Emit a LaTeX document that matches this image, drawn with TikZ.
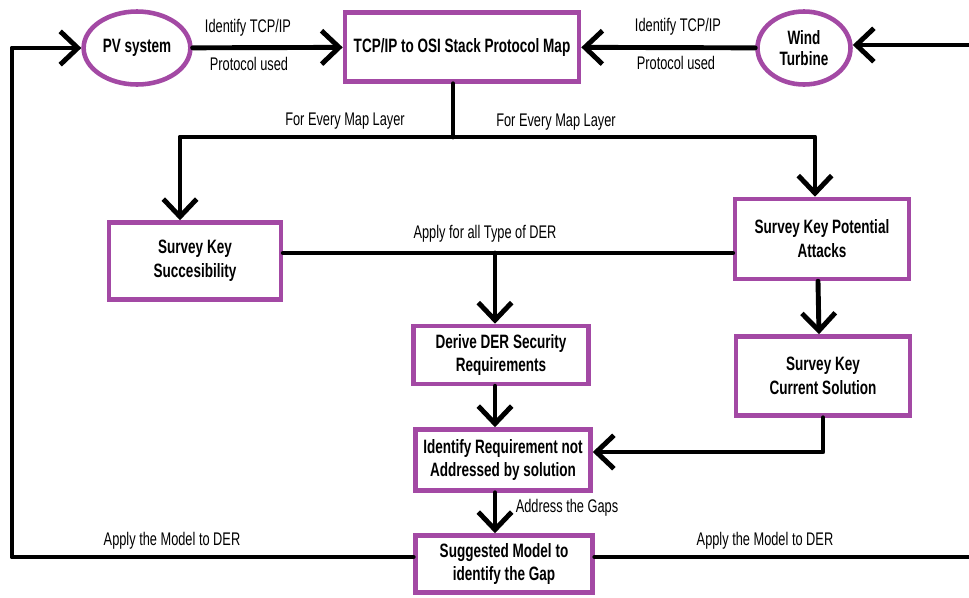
\documentclass[tikz,border=0pt]{standalone}
\usepackage{fontspec}
\setmainfont{Liberation Sans}[FakeStretch=0.7]
\usepackage{tikz}
\usetikzlibrary{arrows.meta,positioning,shapes.geometric,calc}
\usepackage{xcolor}
\definecolor{derpurple}{RGB}{163,73,164}

\begin{document}
\begin{tikzpicture}[x=0.2mm,y=-0.2mm,
    box/.style={draw=derpurple,line width=2.6pt,fill=white,align=center,
        font=\fontsize{11}{13.6}\selectfont\bfseries,inner sep=2pt},
    oval/.style={box,ellipse,font=\fontsize{11}{11.6}\selectfont\bfseries},
    lab/.style={font=\fontsize{10.4}{12}\selectfont},
    link/.style={line width=2.8pt,line cap=round,line join=round},
    arr/.style={link,-{Straight Barb[length=10pt,width=19pt]}}]
    \useasboundingbox (0,0) rectangle (969,598);
    % sources and protocol map
    \node[oval,minimum width=17.2mm,minimum height=14.6mm] (pv) at (137,48) {PV system};
    \node[box,minimum width=46.8mm,minimum height=13.8mm] (map) at (462,47) {TCP/IP to OSI Stack Protocol Map};
    \node[oval,minimum width=18.6mm,minimum height=14.6mm] (wind) at (804,48) {Wind\\Turbine};
    % survey boxes
    \node[box,minimum width=34.4mm,minimum height=15.4mm] (susc) at (195,261) {Survey Key\\Succesibility};
    \node[box,minimum width=34.8mm,minimum height=16mm] (att) at (822,239) {Survey Key Potential\\Attacks};
    \node[box,minimum width=34.8mm,minimum height=15.8mm] (cur) at (823,376) {Survey Key\\Current Solution};
    % requirement chain
    \node[box,minimum width=35mm,minimum height=11.6mm] (der) at (501,355) {Derive DER Security\\Requirements};
    \node[box,minimum width=35mm,minimum height=12.2mm] (ident) at (503,460) {Identify Requirement not\\Addressed by solution};
    \node[box,minimum width=35.4mm,minimum height=11.4mm] (sugg) at (504,564) {Suggested Model to\\identify the Gap};
    % free ends and branch points
    \coordinate (rin) at (969,45);
    \coordinate (rout) at (969,557);
    \coordinate (lft) at (12,300);
    \coordinate (split) at (453,137);
    \coordinate (hub) at (495,253);

    \draw[arr] (pv) -- (map);
    \draw[arr] (wind) -- (map);
    \draw[arr] (rin) -- (wind.east |- rin);
    \node[lab] (idl) at (248,28) {Identify TCP/IP};
    \node[lab] (pul) at (249,64) {Protocol used};
    \node[lab] (idr) at (678,27) {Identify TCP/IP};
    \node[lab] (pur) at (676,63) {Protocol used};

    % every map layer
    \draw[link] (map.south -| split) -- (split);
    \draw[arr] (split) -| ([xshift=-3mm]susc.north);
    \draw[arr] (split) -| ([xshift=-1.4mm]att.north);
    \node[lab] (fel) at (345,121) {For Every Map Layer};
    \node[lab] (fer) at (556,122) {For Every Map Layer};

    % all types of DER
    \draw[link] (susc.east |- hub) -- (att.west |- hub);
    \draw[arr] (hub) -- (der.north -| hub);
    \node[lab] (atl) at (485,234) {Apply for all Type of DER};
    \draw[arr] ([xshift=-0.8mm]att.south) -- ([xshift=-0.8mm]cur.north);
    \draw[arr] (der.south -| hub) -- (ident.north -| hub);
    \draw[arr] (cur.south) |- ([yshift=1.6mm]ident.east);
    \draw[arr] (ident.south -| hub) -- (sugg.north -| hub);
    \node[lab] (gap) at (567,508) {Address the Gaps};

    % feedback of the model
    \draw[arr] ([yshift=1.4mm]sugg.west) -| (lft) |- (pv.west);
    \draw[link] ([yshift=1.4mm]sugg.east) -- ([yshift=1.4mm]sugg.east -| rout);
    \node[lab] (aml) at (172,541) {Apply the Model to DER};
    \node[lab] (amr) at (765,541) {Apply the Model to DER};
\end{tikzpicture}
\end{document}
